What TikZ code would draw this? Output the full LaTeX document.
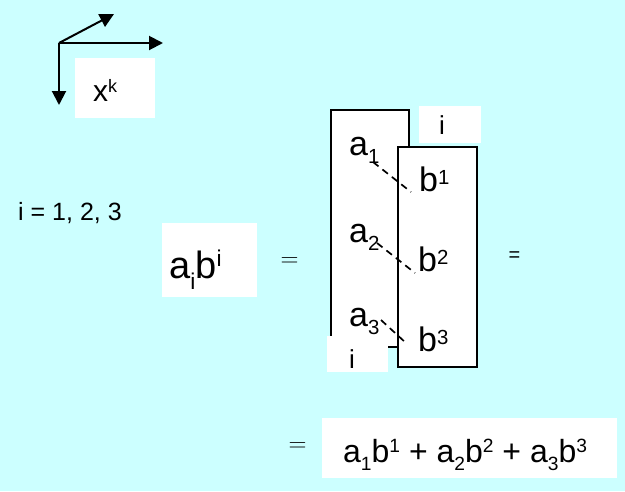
\documentclass[tikz,border=0pt]{standalone}
\usepackage{fontspec}
\setmainfont{Liberation Sans}
\usetikzlibrary{arrows.meta}
\definecolor{bg}{HTML}{CCFFFF}
\makeatletter
\newcommand\hiS[2][0.3em]{\raisebox{#1}{\fontsize{\fpeval{0.6*\f@size}}{\fpeval{0.6*\f@size}}\selectfont #2}}
\newcommand\loS[2][0.28em]{\raisebox{-#1}{\fontsize{\fpeval{0.6*\f@size}}{\fpeval{0.6*\f@size}}\selectfont #2}}
\makeatother
\begin{document}
\begin{tikzpicture}[x=1pt,y=-1pt,
  arr/.style={line width=2pt,-{Triangle[length=14pt,width=14pt]}},
  wbox/.style={fill=white,draw=none,inner sep=0pt},
  rect/.style={fill=white,draw=black,line width=1.8pt,inner sep=0pt},
  txt/.style={anchor=base west,inner sep=0pt},
  dsh/.style={dash pattern=on 7pt off 5pt,line width=1.7pt}]
\fill[bg] (0,0) rectangle (625,491);
\useasboundingbox (0,0) rectangle (625,491);
% axes
\coordinate (o) at (59,43);
\coordinate (dn) at (59,105);
\coordinate (rt) at (163,43);
\coordinate (dg) at (114,14);
\draw[arr] (o) -- (dn);
\draw[arr] (o) -- (rt);
\draw[arr] (o) -- (dg);
\node[wbox,minimum width=80pt,minimum height=60pt] (xbox) at (115,88) {};
\node[txt,font=\fontsize{30}{34}\selectfont] (xk) at (93,101) {x\hiS[0.3em]{k}};
% index range
\node[txt,font=\fontsize{25}{29}\selectfont] (rng) at (18,220) {i = 1, 2, 3};
% a_i b^i
\node[wbox,minimum width=95pt,minimum height=74pt] (abox) at (209.5,260) {};
\node[txt,font=\fontsize{38}{42}\selectfont] (aibi) at (169,278) {a\loS[0.3em]{i}b\hiS[0.3em]{i}};
\node[font=\fontsize{30}{32}\selectfont] (eq1) at (289.5,262) {$=$};
% rectangles
\node[rect,minimum width=78pt,minimum height=237pt] (L) at (370,228.5) {};
\node[rect,minimum width=79pt,minimum height=220pt] (R) at (437.5,257) {};
\node[wbox,minimum width=62pt,minimum height=37pt] (ibt) at (450,124.5) {};
\node[txt,font=\fontsize{26}{30}\selectfont] (it) at (439,134) {i};
\node[wbox,minimum width=61pt,minimum height=36pt] (ibb) at (357.5,354) {};
\node[txt,font=\fontsize{26}{30}\selectfont] (ib) at (349,368) {i};
% labels
\node[txt,font=\fontsize{34}{38}\selectfont] (a1) at (349,155) {a\loS[0.25em]{1}};
\node[txt,font=\fontsize{34}{38}\selectfont] (a2) at (349,242) {a\loS[0.25em]{2}};
\node[txt,font=\fontsize{34}{38}\selectfont] (a3) at (349,326) {a\loS[0.25em]{3}};
\node[txt,font=\fontsize{34}{38}\selectfont] (b1) at (419,191) {b\hiS[0.2em]{1}};
\node[txt,font=\fontsize{34}{38}\selectfont] (b2) at (418,271) {b\hiS[0.2em]{2}};
\node[txt,font=\fontsize{34}{38}\selectfont] (b3) at (418,351) {b\hiS[0.2em]{3}};
% dashed pairings
\coordinate (d1s) at (373,162); \coordinate (d1e) at (411,192);
\coordinate (d2s) at (377,243); \coordinate (d2e) at (415,273);
\coordinate (d3s) at (381,320); \coordinate (d3e) at (406,343);
\draw[dsh] (d1s) -- (d1e);
\draw[dsh] (d2s) -- (d2e);
\draw[dsh] (d3s) -- (d3e);
\node[font=\fontsize{20}{24}\selectfont] (eq2) at (514.5,257) {=};
% result
\node[font=\fontsize{30}{32}\selectfont] (eq3) at (297.5,447) {$=$};
\node[wbox,minimum width=295pt,minimum height=60pt] (rbox) at (469.5,448) {};
\node[txt,font=\fontsize{32}{36}\selectfont] (res) at (343,462) {a\loS{1}b\hiS[0.3em]{1} + a\loS{2}b\hiS[0.3em]{2} + a\loS{3}b\hiS[0.3em]{3}};
\end{tikzpicture}
\end{document}
